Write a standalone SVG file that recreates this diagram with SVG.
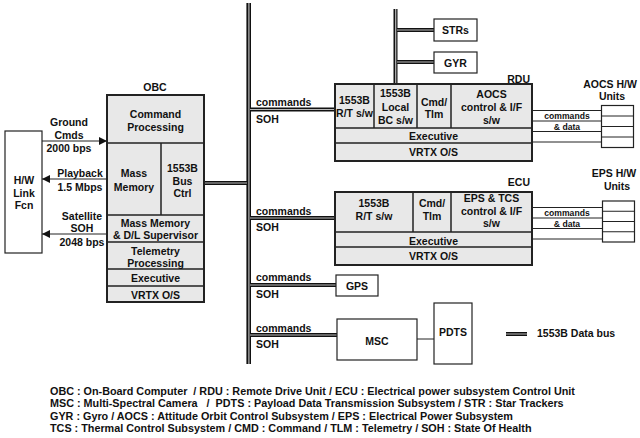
<svg xmlns="http://www.w3.org/2000/svg" width="640" height="438" viewBox="0 0 640 438">
<defs>
<style>
text{font-family:"Liberation Sans",Arial,sans-serif;font-weight:bold;font-size:10.5px;fill:#111}
.c{text-anchor:middle}
.r{text-anchor:end}
.sm{font-size:8.6px}
.lg{font-size:10.8px}
.bx{fill:#e8e8e8;stroke:#222;stroke-width:1.5}
.ob{fill:none;stroke:#222;stroke-width:2}
.dv{stroke:#222;stroke-width:1.5;fill:none}
.wb{fill:#fff;stroke:#222;stroke-width:1.2}
.ln{stroke:#222;stroke-width:1;fill:none}
.bus{stroke:#111;stroke-width:4;fill:none}
.bc{stroke:#bbb;stroke-width:1.2;fill:none}
.mbus{stroke:#111;stroke-width:4.6;fill:none}
</style>
<marker id="ah" viewBox="0 0 10 10" refX="10" refY="5" markerWidth="8" markerHeight="8" markerUnits="userSpaceOnUse" orient="auto">
<path d="M0,0 L10,5 L0,10 z" fill="#111"/>
</marker>
</defs>
<rect width="640" height="438" fill="#fff"/>

<g id="connectors">
<path class="mbus" d="M248.7,3 V364"/>
<path class="bc" d="M248.9,3 V364"/>
<path class="bus" d="M395.5,9 V84"/>
<path class="bc" d="M395.7,9 V84"/>
<path class="bus" d="M204,183 H247 M250,109.5 H335 M250,218 H335 M250,285 H336 M250,335 H337 M397,30 H434 M397,62 H434 M506,334 H527"/>
<path class="bc" d="M204,183 H247 M250,109.5 H335 M250,218 H335 M250,285 H336 M250,335 H337 M397,30 H434 M397,62 H434 M506,334 H527"/>
<path class="ln" d="M42,141 H107" marker-end="url(#ah)"/>
<path class="ln" d="M107,179 H42" marker-end="url(#ah)"/>
<path class="ln" d="M107,234 H42" marker-end="url(#ah)"/>
<path class="ln" d="M533,110.5 H601.5 M533,121 H601.5 M533,131.5 H601.5 M533,142 H601.5"/>
<path class="ln" d="M533,207.5 H602.5 M533,218 H602.5 M533,228.5 H602.5 M533,239 H602.5"/>
<path class="ln" d="M417,339 H434"/>
<text x="256" y="106">commands</text><text x="256" y="123">SOH</text>
<text x="256" y="214.5">commands</text><text x="256" y="231">SOH</text>
<text x="256" y="281">commands</text><text x="256" y="297.5">SOH</text>
<text x="256" y="331.5">commands</text><text x="256" y="347.5">SOH</text>
<text class="c sm" x="567" y="119">commands</text><text class="c sm" x="567" y="129.5">&amp; data</text>
<text class="c sm" x="567" y="216">commands</text><text class="c sm" x="567" y="226.5">&amp; data</text>
<text class="c" x="69" y="126">Ground</text><text class="c" x="69" y="139">Cmds</text><text class="c" x="69" y="152">2000 bps</text>
<text class="c" x="80" y="177">Playback</text><text class="c" x="80" y="191">1.5 Mbps</text>
<text class="c" x="82" y="220">Satellite</text><text class="c" x="82" y="232">SOH</text><text class="c" x="82" y="246">2048 bps</text>
</g>

<g id="hwlink">
<rect class="wb" x="5" y="131" width="37" height="122"/>
<text class="c" x="24" y="184">H/W</text>
<text class="c" x="24" y="196.5">Link</text>
<text class="c" x="24" y="209">Fcn</text>
</g>

<g id="obc">
<text class="c" x="155" y="91">OBC</text>
<rect class="bx" x="107" y="95" width="97" height="207"/>
<path class="dv" d="M107,143 H204 M161,143 V215 M107,215 H204 M107,242 H204 M107,269 H204 M107,286 H204"/>
<rect class="ob" x="107" y="95" width="97" height="207"/>
<text class="c" x="155.5" y="118">Command</text>
<text class="c" x="155.5" y="131">Processing</text>
<text class="c" x="134" y="177">Mass</text>
<text class="c" x="134" y="191">Memory</text>
<text class="c" x="182.5" y="172">1553B</text>
<text class="c" x="182.5" y="184.5">Bus</text>
<text class="c" x="182.5" y="197">Ctrl</text>
<text class="c" x="155.5" y="227">Mass Memory</text>
<text class="c" x="155.5" y="239">&amp; D/L Supervisor</text>
<text class="c" x="155.5" y="255">Telemetry</text>
<text class="c" x="155.5" y="267">Processing</text>
<text class="c" x="155.5" y="282">Executive</text>
<text class="c" x="155.5" y="299">VRTX O/S</text>
</g>

<g id="strs">
<rect class="wb" x="434" y="19" width="43" height="22"/>
<text class="c" x="455.5" y="34">STRs</text>
</g>
<g id="gyr">
<rect class="wb" x="434" y="52" width="43" height="21"/>
<text class="c" x="455.5" y="66.5">GYR</text>
</g>

<g id="rdu">
<text class="r" x="530" y="82.5">RDU</text>
<rect class="bx" x="335" y="84" width="197" height="77"/>
<path class="dv" d="M374,84 V128 M417,84 V128 M451,84 V128 M335,128 H532 M335,143 H532"/>
<rect class="ob" x="335" y="84" width="197" height="77"/>
<text class="c" x="354.5" y="104">1553B</text>
<text class="c" x="354.5" y="117">R/T s/w</text>
<text class="c" x="395.5" y="97">1553B</text>
<text class="c" x="395.5" y="110.5">Local</text>
<text class="c" x="395.5" y="124">BC s/w</text>
<text class="c" x="434" y="105.5">Cmd/</text>
<text class="c" x="434" y="118">Tlm</text>
<text class="c" x="491.5" y="98">AOCS</text>
<text class="c" x="491.5" y="110.5">control &amp; I/F</text>
<text class="c" x="491.5" y="124">s/w</text>
<text class="c" x="433.5" y="139.5">Executive</text>
<text class="c" x="433.5" y="156">VRTX O/S</text>
</g>

<g id="aocs-units">
<text class="c" x="610" y="88">AOCS H/W</text>
<text class="c" x="612" y="99.5">Units</text>
<rect class="wb" x="601.5" y="105.5" width="32" height="42"/>
<path class="ln" d="M601.5,116 H633.5 M601.5,126.5 H633.5 M601.5,137 H633.5"/>
</g>

<g id="ecu">
<text class="r" x="530" y="186">ECU</text>
<rect class="bx" x="335" y="192" width="197" height="73"/>
<path class="dv" d="M413,192 V232 M451,192 V232 M335,232 H532 M335,247 H532"/>
<rect class="ob" x="335" y="192" width="197" height="73"/>
<text class="c" x="374" y="207">1553B</text>
<text class="c" x="374" y="220">R/T s/w</text>
<text class="c" x="432" y="207">Cmd/</text>
<text class="c" x="432" y="220">Tlm</text>
<text class="c" x="491.5" y="202">EPS &amp; TCS</text>
<text class="c" x="491.5" y="215">control &amp; I/F</text>
<text class="c" x="491.5" y="227">s/w</text>
<text class="c" x="433.5" y="244.5">Executive</text>
<text class="c" x="433.5" y="260">VRTX O/S</text>
</g>

<g id="eps-units">
<text class="c" x="614" y="177">EPS H/W</text>
<text class="c" x="617" y="190">Units</text>
<rect class="wb" x="602.5" y="201" width="32" height="41"/>
<path class="ln" d="M602.5,211.25 H634.5 M602.5,221.5 H634.5 M602.5,231.75 H634.5"/>
</g>

<g id="gps">
<rect class="wb" x="336" y="275" width="42" height="21"/>
<text class="c" x="357" y="289.5">GPS</text>
</g>

<g id="msc">
<rect class="wb" x="337" y="319" width="80" height="41"/>
<text class="c" x="377" y="345">MSC</text>
</g>

<g id="pdts">
<rect class="wb" x="434" y="303" width="38" height="61"/>
<text class="c" x="453" y="336">PDTS</text>
</g>

<g id="legend">
<text x="537" y="337">1553B Data bus</text>
<text class="lg" x="50" y="394.5" xml:space="preserve">OBC : On-Board Computer  / RDU : Remote Drive Unit / ECU : Electrical power subsystem Control Unit</text>
<text class="lg" x="50" y="407" xml:space="preserve">MSC : Multi-Spectral Camera   /  PDTS : Payload Data Transmission Subsystem / STR : Star Trackers</text>
<text class="lg" x="50" y="419.5">GYR : Gyro / AOCS : Attitude Orbit Control Subsystem / EPS : Electrical Power Subsystem</text>
<text class="lg" x="50" y="432">TCS : Thermal Control Subsystem / CMD : Command / TLM : Telemetry / SOH : State Of Health</text>
</g>
</svg>
